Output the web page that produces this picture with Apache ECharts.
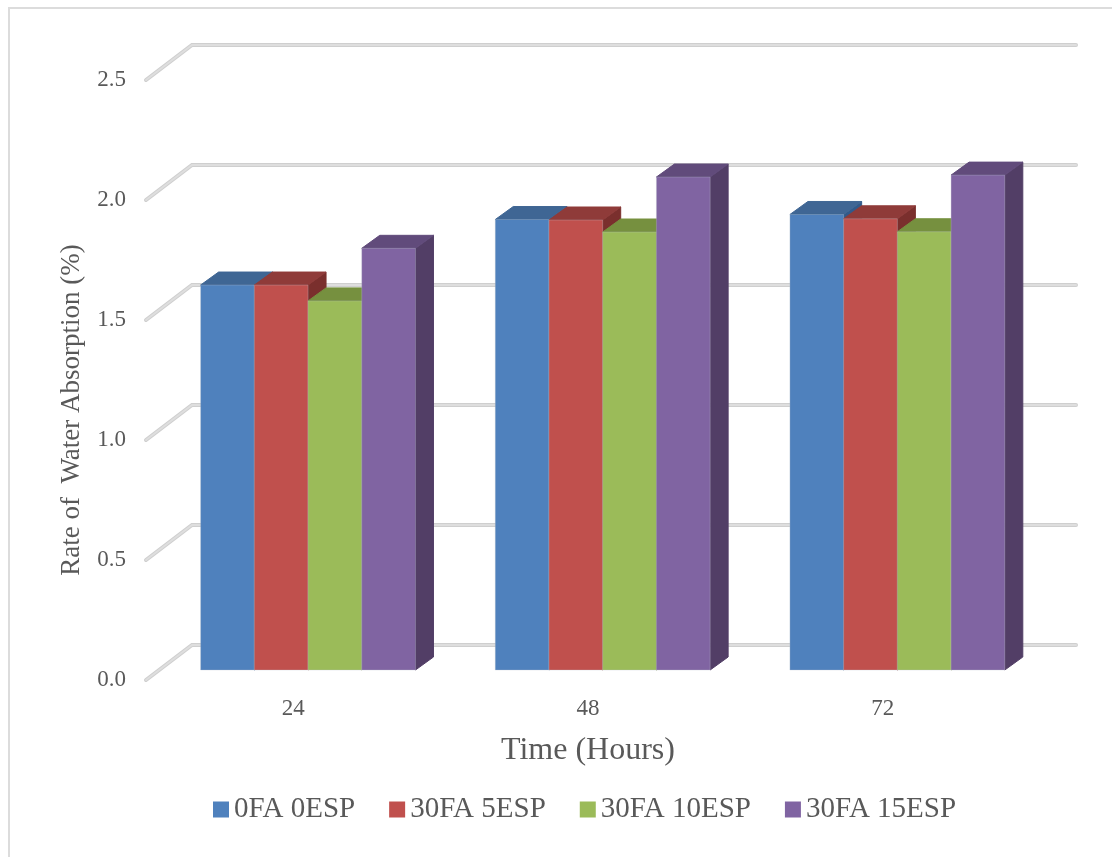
<!DOCTYPE html>
<html>
<head>
<meta charset="utf-8">
<style>html,body{margin:0;padding:0;background:#fff}#chart{width:1112px;height:857px}</style>
<script src="https://cdn.jsdelivr.net/npm/echarts@6/dist/echarts.min.js"></script>
</head>
<body>
<div id="chart"></div>
<script>
const hours = ['24', '48', '72'];
const yTicks = [0, 0.5, 1, 1.5, 2, 2.5];
const plain = [1.604, 1.877, 1.898];
const esp5 = [1.604, 1.875, 1.880];
const esp10 = [1.538, 1.825, 1.826];
const esp15 = [1.757, 2.054, 2.062];
const seriesNames = ['0FA 0ESP', '30FA 5ESP', '30FA 10ESP', '30FA 15ESP'];
const seriesValues = [plain, esp5, esp10, esp15];
const frontColors = ['#4F81BD', '#C0504D', '#9BBB59', '#8064A2'];
const topColors = ['#3F6694', '#8F3B39', '#76903F', '#614B7B'];
const sideColors = ['#315A8A', '#7A2F2D', '#63792F', '#523E66'];

// Oblique projection of the chart box, in pixels
const WALL_DX = 46, WALL_DY = -35;
const BAR_DX = 18, BAR_DY = -13;
const FLOOR_LIFT = 10;
const GROUP_SHIFT = 14.7;
const BAR_RATIO = 0.1823;
const FONT = '"Liberation Serif", serif';
const INK = '#595959';

function drawGridline(params, api) {
  const box = params.coordSys;
  const y = api.coord([0, api.value(0)])[1];
  const pts = [[box.x, y], [box.x + WALL_DX, y + WALL_DY], [box.x + box.width + WALL_DX, y + WALL_DY]];
  const stroke = (color, width) => ({
    type: 'polyline',
    shape: { points: pts },
    style: { fill: null, stroke: color, lineWidth: width, lineJoin: 'miter', lineCap: 'round' }
  });
  return { type: 'group', children: [stroke('#cfcfcf', 4), stroke('#dedede', 2)] };
}

function barRenderer(index) {
  return function (params, api) {
    const base = api.coord([api.value(0), 0]);
    const tip = api.coord([api.value(0), api.value(1)]);
    const w = api.size([1, 0])[0] * BAR_RATIO;
    const x0 = base[0] + GROUP_SHIFT - 2 * w + index * w;
    const x1 = x0 + w;
    const y0 = base[1] - FLOOR_LIFT;
    const y1 = tip[1] - FLOOR_LIFT;
    const poly = (points, color, edge) => ({
      type: 'polygon',
      shape: { points: points },
      style: { fill: color, stroke: edge, lineWidth: 1, lineJoin: 'miter' }
    });
    return {
      type: 'group',
      children: [
        poly([[x1, y0], [x1 + BAR_DX, y0 + BAR_DY], [x1 + BAR_DX, y1 + BAR_DY], [x1, y1]], sideColors[index], sideColors[index]),
        poly([[x0, y1], [x0 + BAR_DX, y1 + BAR_DY], [x1 + BAR_DX, y1 + BAR_DY], [x1, y1]], topColors[index], topColors[index]),
        poly([[x0, y0], [x1, y0], [x1, y1], [x0, y1]], frontColors[index], 'rgba(190,195,205,0.3)')
      ]
    };
  };
}

const option = {
  animation: false,
  backgroundColor: '#fff',
  color: frontColors,
  graphic: [{
    type: 'polyline',
    silent: true,
    shape: { points: [[9, 857], [9, 8], [1112, 8]] },
    style: { fill: null, stroke: '#dcdcdc', lineWidth: 2 }
  }],
  grid: { left: 146, top: 80, width: 884, height: 600 },
  xAxis: {
    type: 'category',
    data: hours,
    name: 'Time (Hours)',
    nameLocation: 'middle',
    nameGap: 55,
    nameTextStyle: { fontFamily: FONT, fontSize: 32, color: INK },
    axisLine: { show: false },
    axisTick: { show: false },
    axisLabel: { fontFamily: FONT, fontSize: 23, color: INK, margin: 17 },
    splitLine: { show: false }
  },
  yAxis: {
    type: 'value',
    min: 0,
    max: 2.5,
    interval: 0.5,
    name: 'Rate of  Water Absorption (%)',
    nameLocation: 'middle',
    nameGap: 61,
    nameTextStyle: { fontFamily: FONT, fontSize: 27, color: INK, padding: [0, 60, 0, 0] },
    axisLine: { show: false },
    axisTick: { show: false },
    axisLabel: { fontFamily: FONT, fontSize: 23, color: INK, margin: 20, formatter: v => v.toFixed(1) },
    splitLine: { show: false }
  },
  legend: {
    data: seriesNames,
    left: 213,
    top: 795,
    icon: 'rect',
    itemWidth: 16,
    itemHeight: 16,
    itemGap: 34,
    padding: 0,
    textStyle: { fontFamily: FONT, fontSize: 29, color: INK }
  },
  series: [
    {
      type: 'custom',
      silent: true,
      z: 1,
      coordinateSystem: 'cartesian2d',
      renderItem: drawGridline,
      encode: { x: 1, y: 0 },
      data: yTicks.map(v => [v, 0])
    }
  ].concat(seriesNames.map((name, i) => ({
    type: 'custom',
    name: name,
    z: 2 + i,
    coordinateSystem: 'cartesian2d',
    renderItem: barRenderer(i),
    itemStyle: { color: frontColors[i] },
    encode: { x: 0, y: 1 },
    data: seriesValues[i].map((v, c) => [c, v])
  })))
};

echarts.init(document.getElementById('chart'), null, { renderer: 'canvas' }).setOption(option);
</script>
</body>
</html>
